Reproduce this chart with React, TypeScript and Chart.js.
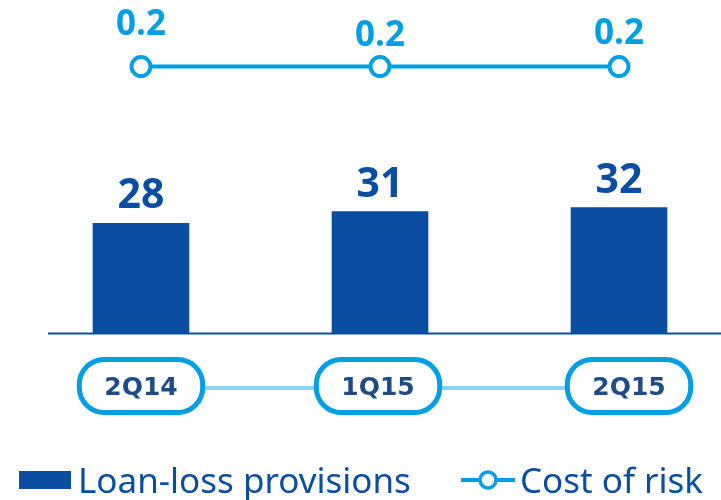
import React, { useEffect, useRef } from 'react';
import { Chart, registerables } from 'chart.js';

Chart.register(...registerables);

// ---- data ----
const categories = ['2Q14', '1Q15', '2Q15'];
const loanLossProvisions = [28, 31, 32];
const costOfRisk = [0.2, 0.2, 0.2];
const seriesNames = ['Loan-loss provisions', 'Cost of risk'];

// ---- styles ----
const BAR_COLOR = '#0A4EA2';
const LINE_COLOR = '#009FE3';
const PILL_TEXT = '#1F4B86';
const CONNECTOR = '#8ED3F3';
const lineLabelLift = [32, 21, 23];
const pillShift = [0, -2, 10];

const overlayPlugin = {
  id: 'overlay',
  beforeDatasetsDraw(chart: any) {
    const ctx = chart.ctx;
    const xs = chart.scales.x;
    const ys = chart.scales.y;
    ctx.save();
    // baseline
    const y0 = ys.getPixelForValue(0);
    ctx.strokeStyle = BAR_COLOR;
    ctx.lineWidth = 2;
    ctx.beginPath();
    ctx.moveTo(48, y0 + 0.5);
    ctx.lineTo(chart.width, y0 + 0.5);
    ctx.stroke();

    // connector between category pills
    const labels: string[] = chart.data.labels;
    const cy = 386;
    ctx.strokeStyle = CONNECTOR;
    ctx.lineWidth = 4;
    ctx.beginPath();
    ctx.moveTo(xs.getPixelForValue(0) + pillShift[0], cy + 2);
    ctx.lineTo(xs.getPixelForValue(labels.length - 1) + pillShift[labels.length - 1], cy + 2);
    ctx.stroke();

    // pills
    ctx.font = 'bold 25px "DejaVu Sans"';
    ctx.textAlign = 'center';
    ctx.textBaseline = 'alphabetic';
    labels.forEach((lab, i) => {
      const cx = xs.getPixelForValue(i) + pillShift[i];
      const w = ctx.measureText(lab).width + 50;
      const h = 53;
      ctx.beginPath();
      ctx.roundRect(cx - w / 2, cy - h / 2, w, h, 25);
      ctx.fillStyle = '#ffffff';
      ctx.fill();
      ctx.lineWidth = 5;
      ctx.strokeStyle = LINE_COLOR;
      ctx.stroke();
      ctx.fillStyle = PILL_TEXT;
      ctx.fillText(lab, cx, cy + 9);
    });
    ctx.restore();
  },
  afterDatasetsDraw(chart: any) {
    const ctx = chart.ctx;
    ctx.save();
    ctx.textAlign = 'center';
    ctx.textBaseline = 'alphabetic';
    // bar value labels
    const barMeta = chart.getDatasetMeta(0);
    const barData = chart.data.datasets[0].data;
    ctx.fillStyle = BAR_COLOR;
    ctx.font = 'bold 41px "Noto Sans"';
    barMeta.data.forEach((el: any, i: number) => {
      ctx.fillText(String(barData[i]), el.x, el.y - 15);
    });
    // line value labels
    const lineMeta = chart.getDatasetMeta(1);
    const lineData = chart.data.datasets[1].data;
    ctx.fillStyle = LINE_COLOR;
    ctx.font = 'bold 35px "Noto Sans"';
    lineMeta.data.forEach((el: any, i: number) => {
      ctx.fillText(Number(lineData[i]).toFixed(1), el.x, el.y - lineLabelLift[i]);
    });

    // legend
    const ds = chart.data.datasets;
    ctx.textAlign = 'left';
    ctx.font = '35px "Noto Sans"';
    ctx.fillStyle = ds[0].backgroundColor;
    ctx.fillRect(19, 471, 52, 18);
    ctx.fillStyle = BAR_COLOR;
    ctx.fillText(ds[0].label, 78, 493);

    ctx.strokeStyle = ds[1].borderColor;
    ctx.lineWidth = 4;
    ctx.beginPath();
    ctx.moveTo(461, 480);
    ctx.lineTo(515, 480);
    ctx.stroke();
    ctx.beginPath();
    ctx.arc(488, 480, 8, 0, Math.PI * 2);
    ctx.fillStyle = '#ffffff';
    ctx.fill();
    ctx.lineWidth = 3.5;
    ctx.stroke();
    ctx.fillStyle = BAR_COLOR;
    ctx.fillText(ds[1].label, 520, 493);
    ctx.restore();
  },
};

export default function App() {
  const ref = useRef<HTMLCanvasElement | null>(null);
  useEffect(() => {
    document.body.style.margin = '0';
    const canvas = ref.current;
    if (!canvas) return;
    const chart = new Chart(canvas, {
      type: 'bar',
      data: {
        labels: categories,
        datasets: [
          {
            type: 'bar',
            label: seriesNames[0],
            data: loanLossProvisions,
            backgroundColor: BAR_COLOR,
            barThickness: 96,
            yAxisID: 'y',
            clip: false,
            order: 2,
          } as any,
          {
            type: 'line',
            label: seriesNames[1],
            data: costOfRisk,
            borderColor: LINE_COLOR,
            borderWidth: 4,
            pointRadius: 9.5,
            pointHoverRadius: 9.5,
            pointBorderWidth: 4,
            pointBackgroundColor: '#ffffff',
            pointBorderColor: LINE_COLOR,
            yAxisID: 'y2',
            clip: false,
            order: 1,
          } as any,
        ],
      },
      options: {
        animation: false,
        responsive: false,
        maintainAspectRatio: false,
        layout: { autoPadding: false, padding: { left: 141, right: 102, top: 0, bottom: 167 } },
        plugins: { legend: { display: false }, tooltip: { enabled: false } },
        scales: {
          x: { display: false, offset: false, grid: { offset: false } },
          y: { display: false, min: 0, max: 85 },
          y2: { display: false, min: 0, max: 0.25 },
        },
      },
      plugins: [overlayPlugin],
    });
    return () => chart.destroy();
  }, []);
  return (
    <div style={{ width: 721, height: 500 }}>
      <canvas ref={ref} width={721} height={500} style={{ display: 'block' }} />
    </div>
  );
}
